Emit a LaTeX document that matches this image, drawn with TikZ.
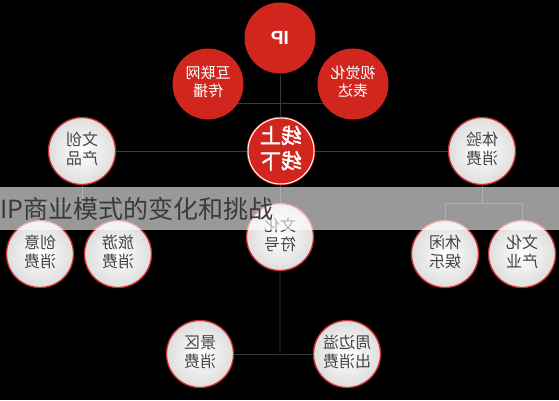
\documentclass[tikz,border=0pt]{standalone}
\usepackage{fontspec}
\newfontfamily\cjk[AutoFakeBold=2]{Noto Sans CJK SC}
\newfontfamily\ipfont{Liberation Sans}
\usetikzlibrary{backgrounds}

\definecolor{ipred}{RGB}{208,38,30}
\definecolor{ringred}{RGB}{205,45,45}
\definecolor{linegray}{RGB}{58,58,58}
\definecolor{txtgray}{RGB}{68,68,68}
\definecolor{titlegray}{RGB}{58,58,58}

% mirrored two-line label
\newcommand{\mirrorlabel}[2]{\reflectbox{\begin{tabular}{@{}c@{}}#1\\#2\end{tabular}}}

\begin{document}
\begin{tikzpicture}[x=1pt,y=-1pt,
    redball/.style={shape=circle,fill=ipred,text=white,minimum size=71pt,inner sep=0pt,
        font=\cjk\fontsize{15}{18}\selectfont},
    whiteball/.style={shape=circle,draw=ringred,line width=1.3pt,inner color=white,
        outer color=black!13,text=txtgray,minimum size=67pt,inner sep=0pt,
        font=\cjk\fontsize{16}{19}\selectfont},
    link/.style={draw=linegray,line width=0.8pt}]

    \useasboundingbox (0,0) rectangle (559,400);
    \begin{scope}[on background layer]
        \fill[black] (0,0) rectangle (559,400);
    \end{scope}

    \node[redball,font=\ipfont\bfseries\fontsize{19}{22}\selectfont] (ip) at (280,38) {\reflectbox{IP}};
    \node[redball] (web) at (208,84) {\mirrorlabel{互联网}{传播}};
    \node[redball] (vis) at (353,84) {\mirrorlabel{视觉化}{表达}};
    \node[redball,minimum size=66pt,draw=ipred,line width=0.8pt,double=white,double distance=1pt,
        font=\cjk\bfseries\fontsize{21}{25}\selectfont] (online) at (281,151) {\mirrorlabel{线上}{线下}};

    \node[whiteball] (craft) at (82,151) {\mirrorlabel{文创}{产品}};
    \node[whiteball] (exp) at (482,151) {\mirrorlabel{体验}{消费}};
    \node[whiteball] (symbol) at (280,237) {\mirrorlabel{文化}{符号}};
    \node[whiteball] (idea) at (40,254) {\mirrorlabel{创意}{消费}};
    \node[whiteball] (tour) at (118,254) {\mirrorlabel{旅游}{消费}};
    \node[whiteball] (leisure) at (445,254) {\mirrorlabel{休闲}{娱乐}};
    \node[whiteball] (industry) at (522,254) {\mirrorlabel{文化}{产业}};
    \node[whiteball] (scenic) at (200,354) {\mirrorlabel{景区}{消费}};
    \node[whiteball] (spill) at (347,354) {\mirrorlabel{周边溢}{出消费}};

    \coordinate (craftj) at (82,203);
    \coordinate (expj) at (482,203);
    \coordinate (symbolj) at (280,353);

    \begin{scope}[on background layer]
        \path[link] (ip) -- (online);
        \path[link] ([yshift=-19pt]web.center) -- ([yshift=-19pt]vis.center);
        \path[link] (craft) -- (online) -- (exp);
        \path[link] (online) -- (symbol) -- (symbolj);
        \path[link] (scenic) -- (spill);
        \path[link] (craft) -- (craftj);
        \path[link] (idea) -- (idea |- craftj) -- (tour |- craftj) -- (tour);
        \path[link] (exp) -- (expj);
        \path[link] (leisure) -- (leisure |- expj) -- (industry |- expj) -- (industry);
    \end{scope}

    \fill[white,opacity=0.6] (0,187) rectangle (559,230);
    \node[anchor=west,inner sep=0pt,text=titlegray,font=\cjk\fontsize{25}{30}\selectfont] (title) at (0,209) {IP商业模式的变化和挑战};

\end{tikzpicture}
\end{document}
